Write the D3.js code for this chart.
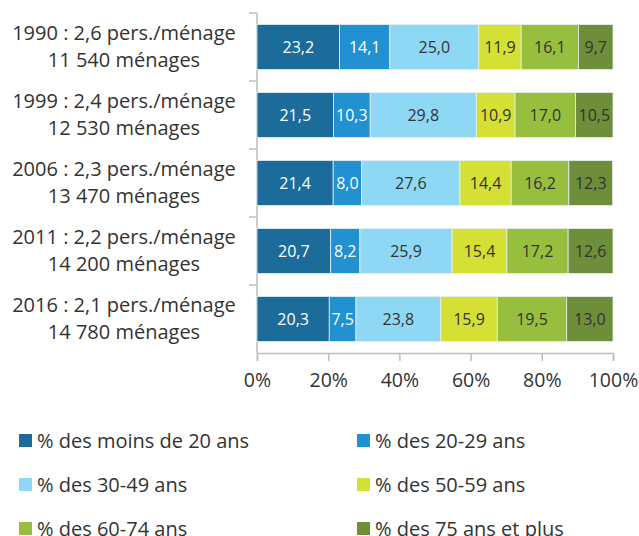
<!DOCTYPE html>
<html>
<head>
<meta charset="utf-8">
<script src="https://cdn.jsdelivr.net/npm/d3@7"></script>
<style>
  body { margin: 0; background: #fff; }
  svg { font-family: "Open Sans", sans-serif; }
</style>
</head>
<body>
<div id="chart"></div>
<script>
// data
const years = ["1990", "1999", "2006", "2011", "2016"];
const persLines = ["1990 : 2,6 pers./ménage", "1999 : 2,4 pers./ménage", "2006 : 2,3 pers./ménage", "2011 : 2,2 pers./ménage", "2016 : 2,1 pers./ménage"];
const menageLines = ["11 540 ménages", "12 530 ménages", "13 470 ménages", "14 200 ménages", "14 780 ménages"];
const ageGroups = ["% des moins de 20 ans", "% des 20-29 ans", "% des 30-49 ans", "% des 50-59 ans", "% des 60-74 ans", "% des 75 ans et plus"];
const moins20 = [23.2, 21.5, 21.4, 20.7, 20.3];
const a20_29 = [14.1, 10.3, 8.0, 8.2, 7.5];
const a30_49 = [25.0, 29.8, 27.6, 25.9, 23.8];
const a50_59 = [11.9, 10.9, 14.4, 15.4, 15.9];
const a60_74 = [16.1, 17.0, 16.2, 17.2, 19.5];
const a75plus = [9.7, 10.5, 12.3, 12.6, 13.0];
const xTicks = [0, 20, 40, 60, 80, 100];

const colors = ["#1b6b9b", "#2191d1", "#8ed8f6", "#d5e035", "#98be3e", "#6f8e3a"];
const labelColors = ["#fff", "#fff", "#333", "#333", "#333", "#333"];

const width = 639, height = 536;
const svg = d3.select("#chart").append("svg")
  .attr("width", width).attr("height", height);

const margin = { top: 13, left: 257, right: 26, bottom: 183 };
const plotW = width - margin.left - margin.right;
const plotH = height - margin.top - margin.bottom;

const series = [moins20, a20_29, a30_49, a50_59, a60_74, a75plus];
const rows = years.map((y, i) => {
  const r = { year: y };
  ageGroups.forEach((g, k) => r[g] = series[k][i]);
  return r;
});
const stacked = d3.stack().keys(ageGroups)(rows);

const x = d3.scaleLinear().domain([0, 100]).range([0, plotW]);
const y = d3.scaleBand().domain(years).range([0, plotH]).paddingInner(0.34).paddingOuter(0.17);

const g = svg.append("g").attr("transform", `translate(${margin.left},${margin.top})`);

// left axis with separators between bands
const sep = years.map((d, i) => i * plotH / years.length);
g.append("line").attr("x1", 0).attr("x2", 0).attr("y1", 0).attr("y2", plotH)
  .attr("stroke", "#bdbdbd").attr("stroke-width", 1.5);
g.selectAll(".sep").data(sep).join("line")
  .attr("x1", -8).attr("x2", 0).attr("y1", d => d).attr("y2", d => d)
  .attr("stroke", "#bdbdbd").attr("stroke-width", 1.5);

// bottom axis
const xAxis = g.append("g").attr("transform", `translate(0,${plotH})`)
  .call(d3.axisBottom(x).tickValues(xTicks).tickSize(8).tickPadding(12).tickFormat(d => d + "%"));
xAxis.select(".domain").attr("stroke", "#bdbdbd").attr("stroke-width", 1.5);
xAxis.selectAll(".tick line").attr("stroke", "#bdbdbd").attr("stroke-width", 1.5);
xAxis.selectAll(".tick text").attr("fill", "#333").attr("font-size", 19.5)
  .attr("font-family", "Open Sans, sans-serif");

// bars
const layers = g.selectAll(".layer").data(stacked).join("g").attr("class", "layer");
layers.selectAll("rect").data((d, k) => d.map(v => ({ v, k }))).join("rect")
  .attr("x", d => x(d.v[0]))
  .attr("y", d => y(d.v.data.year))
  .attr("width", d => x(d.v[1]) - x(d.v[0]))
  .attr("height", y.bandwidth())
  .attr("fill", d => colors[d.k])
  .attr("stroke", "#e6eef2").attr("stroke-width", 0.8);

layers.selectAll("text").data((d, k) => d.map(v => ({ v, k }))).join("text")
  .attr("x", d => (x(d.v[0]) + x(d.v[1])) / 2)
  .attr("y", d => y(d.v.data.year) + y.bandwidth() / 2)
  .attr("dy", "0.36em")
  .attr("text-anchor", "middle")
  .attr("font-size", 16)
  .attr("fill", d => labelColors[d.k])
  .text(d => (d.v[1] - d.v[0]).toFixed(1).replace(".", ","));

// category labels
const cat = svg.append("g");
years.forEach((yr, i) => {
  const cy = margin.top + y(yr) + y.bandwidth() / 2;
  const t = cat.append("text").attr("text-anchor", "middle")
    .attr("font-size", 20).attr("fill", "#333");
  t.append("tspan").attr("x", 124).attr("y", cy - 14).attr("dy", "0.36em").text(persLines[i]);
  t.append("tspan").attr("x", 124).attr("y", cy + 13).attr("dy", "0.36em").text(menageLines[i]);
});

// legend
const legend = svg.append("g");
ageGroups.forEach((name, k) => {
  const col = k % 2, row = Math.floor(k / 2);
  const lx = col === 0 ? 19 : 357;
  const ly = 440.5 + row * 44;
  legend.append("rect").attr("x", lx).attr("y", ly - 6.5).attr("width", 13).attr("height", 13)
    .attr("fill", colors[k]);
  legend.append("text").attr("x", lx + 18).attr("y", ly).attr("dy", "0.36em")
    .attr("font-size", 20).attr("fill", "#333").text(name);
});
</script>
</body>
</html>
